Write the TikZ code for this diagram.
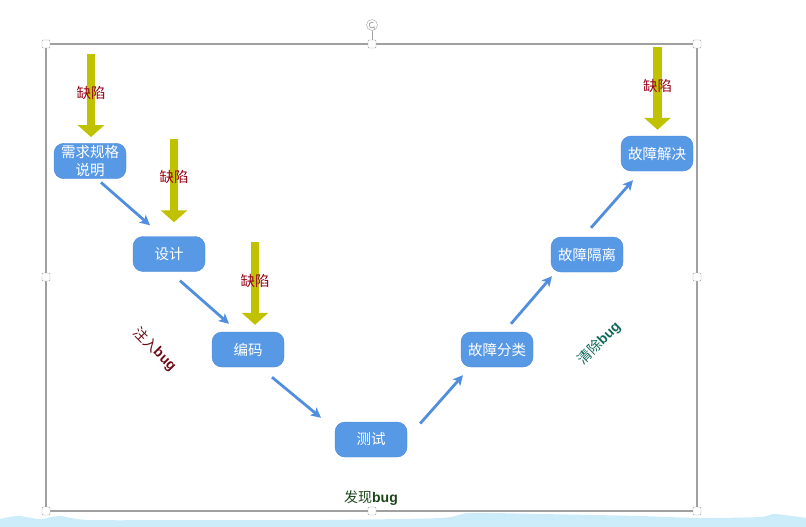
\documentclass[tikz,border=0pt]{standalone}
\usepackage{fontspec}
\setmainfont{Liberation Sans}
\newfontfamily\cjk{Noto Sans CJK SC}
\usepackage{tikz}
\usetikzlibrary{arrows, arrows.meta, positioning}

\definecolor{boxblue}{RGB}{88,153,230}
\definecolor{boxedge}{RGB}{72,134,212}
\definecolor{linkblue}{RGB}{82,142,222}
\definecolor{defectyellow}{RGB}{192,194,0}
\definecolor{defectred}{RGB}{150,0,20}
\definecolor{injectred}{RGB}{105,10,20}
\definecolor{clearteal}{RGB}{15,105,90}
\definecolor{findgreen}{RGB}{25,70,25}
\definecolor{framegray}{RGB}{160,160,160}
\definecolor{waveblue}{RGB}{205,236,250}

\begin{document}
\begin{tikzpicture}[
    x=1pt, y=-1pt,
    stepbox/.style={
        rectangle, draw=boxedge,
        fill=boxblue,
        text=white,
        font=\cjk\fontsize{14.5}{18}\selectfont,
        align=center,
        rounded corners=10pt,
        minimum width=72pt,
        minimum height=35pt,
        inner sep=2pt
    },
    conn/.style={->, >={Stealth[length=10pt,width=10pt,inset=2.5pt]}, line width=2.8pt, draw=linkblue},
    defect/.style={-{Triangle[width=26pt,length=12pt]}, line width=8.5pt, draw=defectyellow},
    defectlabel/.style={text=defectred, font=\cjk\fontsize{14.5}{16}\selectfont},
    phase/.style={font=\fontsize{14}{16}\selectfont, inner sep=0pt},
    handle/.style={rectangle, draw=framegray, fill=white, rounded corners=1pt, minimum size=8pt, inner sep=0pt}
]
\useasboundingbox (0,0) rectangle (806,527);

% Bottom wave
\fill [waveblue] plot[smooth] coordinates {(0,519) (18,516) (40,519) (60,516) (90,520) (200,520) (320,520) (440,518) (470,513) (540,514) (640,516) (700,518) (760,517) (775,514) (806,518)} -- (806,527) -- (0,527) -- cycle;

% Selection frame
\draw [framegray, line width=1.2pt] (46,44) rectangle (697,511);
\foreach \name/\pos in {tl/{(46,44)}, tc/{(372,44)}, tr/{(697,44)}, ml/{(46,277)}, mr/{(697,277)}, bl/{(46,511)}, bc/{(372,511)}, br/{(697,511)}}
    \node [handle] (h\name) at \pos {};
\node [circle, draw=framegray, fill=white, minimum size=11pt, inner sep=0pt] (rot) at (372,25) {};
\draw [framegray, line width=1pt] (rot) -- (htc);
\draw [framegray, line width=0.7pt, -{Stealth[length=2.2pt,width=2.8pt]}] ([shift={(60:2.8pt)}]rot.center) arc[start angle=60, end angle=330, radius=2.8pt];

% Steps (left branch)
\node [stepbox] (req) at (90,161) {需求规格\\说明};
\node [stepbox] (design) at (169,254) {设计};
\node [stepbox] (code) at (248,349.5) {编码};
\node [stepbox] (test) at (371,439.5) {测试};

% Steps (right branch)
\node [stepbox] (classify) at (497,349.5) {故障分类};
\node [stepbox] (isolate) at (587,254.5) {故障隔离};
\node [stepbox] (resolve) at (657,153.5) {故障解决};

% Defects coming in
\coordinate (d1) at (91,54);
\coordinate (d2) at (174,139);
\coordinate (d3) at (255,242);
\coordinate (d4) at (657.5,47);
\draw [defect, shorten >=6pt] (d1) -- (d1 |- req.north) node [defectlabel, pos=0.44] {缺陷};
\draw [defect, shorten >=14pt] (d2) -- (d2 |- design.north) node [defectlabel, pos=0.39] {缺陷};
\draw [defect, shorten >=7pt] (d3) -- (d3 |- code.north) node [defectlabel, pos=0.43] {缺陷};
\draw [defect, shorten >=6pt] (d4) -- (d4 |- resolve.north) node [defectlabel, pos=0.44] {缺陷};

% Arrows down the V
\draw [conn] ([xshift=11pt,yshift=-3.5pt]req.south) -- ([xshift=-19pt,yshift=11pt]design.north);
\draw [conn] ([xshift=11pt,yshift=-9pt]design.south) -- ([xshift=-19pt,yshift=8pt]code.north);
\draw [conn] ([xshift=24pt,yshift=-10pt]code.south) -- ([xshift=-50pt,yshift=4pt]test.north);

% Arrows up the V
\draw [conn] ([xshift=13pt,yshift=16pt]test.east) -- ([xshift=-34pt,yshift=-8pt]classify.south);
\draw [conn] ([xshift=14pt,yshift=8pt]classify.north) -- ([xshift=-35pt,yshift=-4pt]isolate.south);
\draw [conn] ([xshift=4pt,yshift=9pt]isolate.north) -- ([xshift=-24pt,yshift=-9pt]resolve.south);

% Phase labels
\node [phase, text=injectred, rotate=-45] (inject) at (155,349) {{\cjk 注入}\textbf{bug}};
\node [phase, text=clearteal, rotate=45] (clear) at (599,343) {{\cjk 清除}\textbf{bug}};
\node [phase, text=findgreen, below=33pt of test] (find) {{\cjk 发现}\textbf{bug}};

\end{tikzpicture}
\end{document}
